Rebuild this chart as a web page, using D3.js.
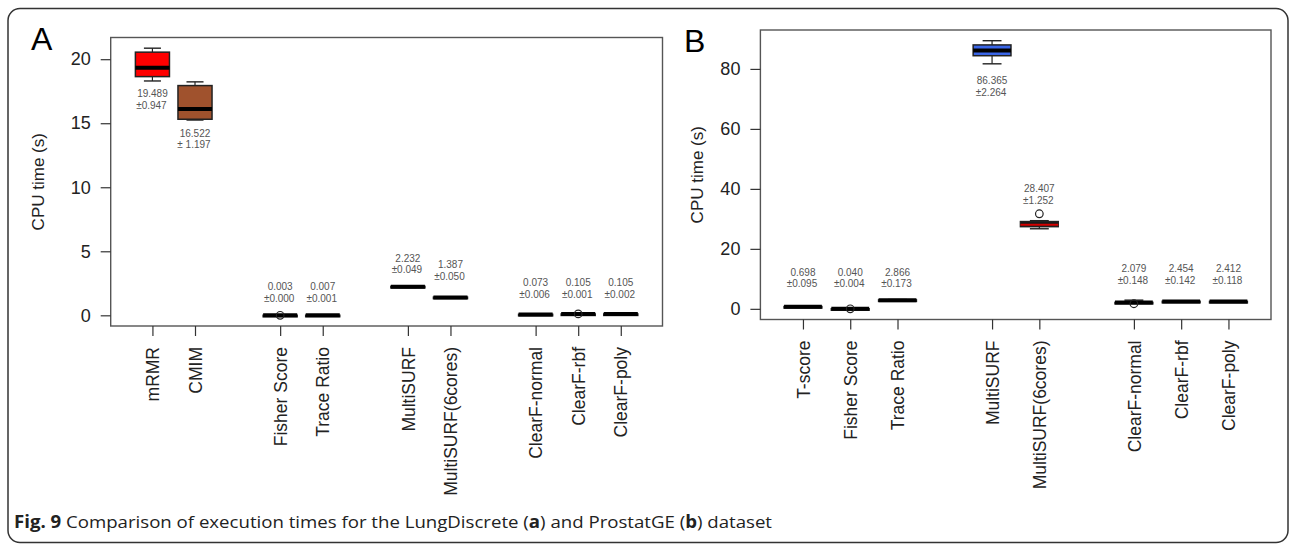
<!DOCTYPE html>
<html>
<head>
<meta charset="utf-8">
<script src="https://cdnjs.cloudflare.com/ajax/libs/d3/7.8.5/d3.min.js"></script>
<style>
  body { margin: 0; background: #fff; }
  svg { display: block; }
</style>
</head>
<body>
<div id="chart"></div>
<script>
'use strict'
//#region Data
// Panel A - LungDiscrete
const groupsA = [['mRMR', 'CMIM'], ['Fisher Score', 'Trace Ratio'], ['MultiSURF', 'MultiSURF(6cores)'], ['ClearF-normal', 'ClearF-rbf', 'ClearF-poly']];
// [lower whisker, q1, median, q3, upper whisker]
const statsA = [
    [18.30, 18.64, 19.34, 20.55, 20.86],
    [15.25, 15.31, 16.12, 17.94, 18.23],
    [0.001, 0.002, 0.003, 0.005, 0.008],
    [0.005, 0.006, 0.007, 0.008, 0.009],
    [2.17, 2.20, 2.23, 2.26, 2.29],
    [1.33, 1.36, 1.39, 1.42, 1.44],
    [0.065, 0.068, 0.073, 0.078, 0.082],
    [0.103, 0.104, 0.105, 0.106, 0.107],
    [0.102, 0.104, 0.105, 0.107, 0.108]
];
const outliersA = [[], [], [0.0], [], [], [], [], [0.11], []];
const meanA = [19.489, 16.522, 0.003, 0.007, 2.232, 1.387, 0.073, 0.105, 0.105];
const sdA = [0.947, 1.197, 0.000, 0.001, 0.049, 0.050, 0.006, 0.001, 0.002];
const ticksA = [0, 5, 10, 15, 20];

// Panel B - ProstatGE
const groupsB = [['T-score', 'Fisher Score', 'Trace Ratio'], ['MultiSURF', 'MultiSURF(6cores)'], ['ClearF-normal', 'ClearF-rbf', 'ClearF-poly']];
const statsB = [
    [0.55, 0.62, 0.70, 0.77, 0.85],
    [0.035, 0.037, 0.040, 0.043, 0.045],
    [2.60, 2.75, 2.87, 2.98, 3.10],
    [81.7, 84.4, 86.1, 88.0, 89.4],
    [26.7, 27.4, 28.0, 29.1, 29.4],
    [1.90, 2.00, 2.08, 2.15, 2.90],
    [2.30, 2.38, 2.45, 2.52, 2.60],
    [2.28, 2.35, 2.41, 2.48, 2.55]
];
const outliersB = [[], [0.02], [], [], [31.7], [1.7], [], []];
const meanB = [0.698, 0.040, 2.866, 86.365, 28.407, 2.079, 2.454, 2.412];
const sdB = [0.095, 0.004, 0.173, 2.264, 1.252, 0.148, 0.142, 0.118];
const ticksB = [0, 20, 40, 60, 80];
//#endregion

//#region Layout and styles
const width = 1292, height = 544;
const panels = [
    {
        letter: 'A', groups: groupsA, stats: statsA, outliers: outliersA, mean: meanA, sd: sdA, ticks: ticksA,
        frame: { left: 110.7, right: 662.5, top: 37.5, bottom: 326 },
        letterPos: [31, 50], titleX: 38,
        fills: ['#ff0000', '#a0522d', '#fff', '#fff', '#fff', '#fff', '#fff', '#fff', '#fff'],
        medians: ['#000', '#000', '#000', '#000', '#000', '#000', '#000', '#000', '#000'],
        // first line offset of the mean/sd note from the box top (neg) or bottom (pos)
        noteDy: [13, 13, -28.5, -28.5, -27.7, -32, -31.6, -31.2, -31.2],
        noteSep: ['±', '± ', '±', '±', '±', '±', '±', '±', '±']
    },
    {
        letter: 'B', groups: groupsB, stats: statsB, outliers: outliersB, mean: meanB, sd: sdB, ticks: ticksB,
        frame: { left: 760.4, right: 1271, top: 30, bottom: 319.5 },
        letterPos: [684, 52], titleX: 697,
        fills: ['#fff', '#fff', '#fff', '#3a66e8', '#1a1a1a', '#fff', '#fff', '#fff'],
        medians: ['#000', '#000', '#000', '#000', '#d40000', '#000', '#000', '#000'],
        noteDy: [-34, -36.6, -27.4, 17, -25, -31.3, -32.2, -32.4],
        noteSep: ['±', '±', '±', '±', '±', '±', '±', '±']
    }
];
const fontR = "'Liberation Sans', Arial, sans-serif";
//#endregion

const svg = d3.select('#chart').append('svg')
    .attr('width', width)
    .attr('height', height);

// Outer rounded frame of the figure
svg.append('rect')
    .attr('x', 8).attr('y', 8.5)
    .attr('width', 1280).attr('height', 534)
    .attr('rx', 12)
    .attr('fill', 'none')
    .attr('stroke', '#333')
    .attr('stroke-width', 1.5);

function drawPanel(p) {
    // categorical positions with one empty slot between groups (as in R boxplot(at=...))
    const cats = [];
    let pos = 1;
    p.groups.forEach((g, gi) => {
        g.forEach(name => { cats.push({ name, at: pos }); pos++; });
        pos++;
    });
    const n = cats[cats.length - 1].at;
    const ext = 0.04 * n;
    const x = d3.scaleLinear()
        .domain([0.5 - ext, n + 0.5 + ext])
        .range([p.frame.left, p.frame.right]);

    const allVals = p.stats.flat().concat(p.outliers.flat());
    const lo = d3.min(allVals), hi = d3.max(allVals);
    const yExt = 0.04 * (hi - lo);
    const y = d3.scaleLinear()
        .domain([lo - yExt, hi + yExt])
        .range([p.frame.bottom, p.frame.top]);

    const g = svg.append('g').attr('class', 'panel');
    const boxW = x(1.8) - x(1);

    // Plot frame
    g.append('rect')
        .attr('x', p.frame.left).attr('y', p.frame.top)
        .attr('width', p.frame.right - p.frame.left)
        .attr('height', p.frame.bottom - p.frame.top)
        .attr('fill', 'none')
        .attr('stroke', '#555')
        .attr('stroke-width', 1.4);

    // Y axis
    const yAxis = g.append('g')
        .attr('transform', `translate(${p.frame.left},0)`)
        .call(d3.axisLeft(y).tickValues(p.ticks).tickSize(10).tickPadding(10))
        .call(a => a.select('.domain').remove());
    yAxis.selectAll('line').attr('stroke', '#333').attr('stroke-width', 1.2);
    yAxis.selectAll('text')
        .attr('font-family', fontR)
        .attr('font-size', 18)
        .attr('fill', '#222');

    // X axis with rotated labels
    const xAxis = g.append('g')
        .attr('transform', `translate(0,${p.frame.bottom})`)
        .call(d3.axisBottom(x).tickValues(cats.map(c => c.at)).tickSize(10).tickFormat((d, i) => cats[i].name))
        .call(a => a.select('.domain').remove());
    xAxis.selectAll('line').attr('stroke', '#333').attr('stroke-width', 1.2);
    xAxis.selectAll('text')
        .attr('font-family', fontR)
        .attr('font-size', 17.5)
        .attr('fill', '#222')
        .attr('text-anchor', 'end')
        .attr('transform', 'rotate(-90)')
        .attr('x', -21)
        .attr('y', 0)
        .attr('dy', '0.35em');

    // Y axis title
    g.append('text')
        .attr('transform', `translate(${p.titleX},${(p.frame.top + p.frame.bottom) / 2}) rotate(-90)`)
        .attr('text-anchor', 'middle')
        .attr('dy', '0.35em')
        .attr('font-family', fontR)
        .attr('font-size', 17)
        .attr('fill', '#222')
        .text('CPU time (s)');

    // Panel letter
    g.append('text')
        .attr('x', p.letterPos[0]).attr('y', p.letterPos[1])
        .attr('font-family', fontR)
        .attr('font-size', 32)
        .attr('fill', '#000')
        .text(p.letter);

    // Boxes
    const boxes = g.selectAll('g.box')
        .data(cats.map((c, i) => ({ ...c, s: p.stats[i], out: p.outliers[i], i })))
        .join('g')
        .attr('class', 'box');

    boxes.each(function(d) {
        const b = d3.select(this);
        const cx = x(d.at);
        const [wLo, q1, med, q3, wHi] = d.s;
        // whiskers
        b.append('line')
            .attr('x1', cx).attr('x2', cx)
            .attr('y1', y(q3)).attr('y2', y(wHi))
            .attr('stroke', '#222').attr('stroke-width', 1.2);
        b.append('line')
            .attr('x1', cx).attr('x2', cx)
            .attr('y1', y(q1)).attr('y2', y(wLo))
            .attr('stroke', '#222').attr('stroke-width', 1.2);
        // staples
        [wLo, wHi].forEach(v => {
            b.append('line')
                .attr('x1', cx - boxW / 4).attr('x2', cx + boxW / 4)
                .attr('y1', y(v)).attr('y2', y(v))
                .attr('stroke', '#222').attr('stroke-width', 1.4);
        });
        // box
        b.append('rect')
            .attr('x', cx - boxW / 2)
            .attr('y', y(q3))
            .attr('width', boxW)
            .attr('height', Math.max(y(q1) - y(q3), 1.5))
            .attr('fill', p.fills[d.i])
            .attr('stroke', '#222')
            .attr('stroke-width', 1.5);
        // median
        b.append('line')
            .attr('x1', cx - boxW / 2).attr('x2', cx + boxW / 2)
            .attr('y1', y(med)).attr('y2', y(med))
            .attr('stroke', p.medians[d.i])
            .attr('stroke-width', p.medians[d.i] === '#000' ? 4 : 2);
        // outliers
        b.selectAll('circle')
            .data(d.out)
            .join('circle')
            .attr('cx', cx)
            .attr('cy', v => y(v))
            .attr('r', 3.8)
            .attr('fill', 'none')
            .attr('stroke', '#222')
            .attr('stroke-width', 1.2);

        // mean +- sd note
        const dy = p.noteDy[d.i];
        const top = y(d3.max([wHi].concat(d.out)));
        const bottom = y(d3.min([wLo].concat(d.out)));
        const y1 = dy < 0 ? top + dy : bottom + dy;
        const note = b.append('text')
            .attr('font-family', fontR)
            .attr('font-size', 10)
            .attr('fill', '#555')
            .attr('text-anchor', 'middle');
        note.append('tspan')
            .attr('x', cx).attr('y', y1).attr('dy', '0.35em')
            .text(p.mean[d.i].toFixed(3));
        note.append('tspan')
            .attr('x', cx - 1).attr('y', y1 + 11.7).attr('dy', '0.35em')
            .text(p.noteSep[d.i] + p.sd[d.i].toFixed(3));
    });
}

panels.forEach(drawPanel);

// Caption
const caption = svg.append('text')
    .attr('x', 14)
    .attr('y', 528)
    .attr('font-family', "'Open Sans', 'Noto Sans', sans-serif")
    .attr('font-size', 17)
    .attr('fill', '#222')
    .attr('textLength', 758)
    .attr('lengthAdjust', 'spacingAndGlyphs');
caption.append('tspan').attr('font-weight', 'bold').text('Fig. 9');
caption.append('tspan').text(' Comparison of execution times for the LungDiscrete (');
caption.append('tspan').attr('font-weight', 'bold').text('a');
caption.append('tspan').text(') and ProstatGE (');
caption.append('tspan').attr('font-weight', 'bold').text('b');
caption.append('tspan').text(') dataset');
</script>
</body>
</html>
